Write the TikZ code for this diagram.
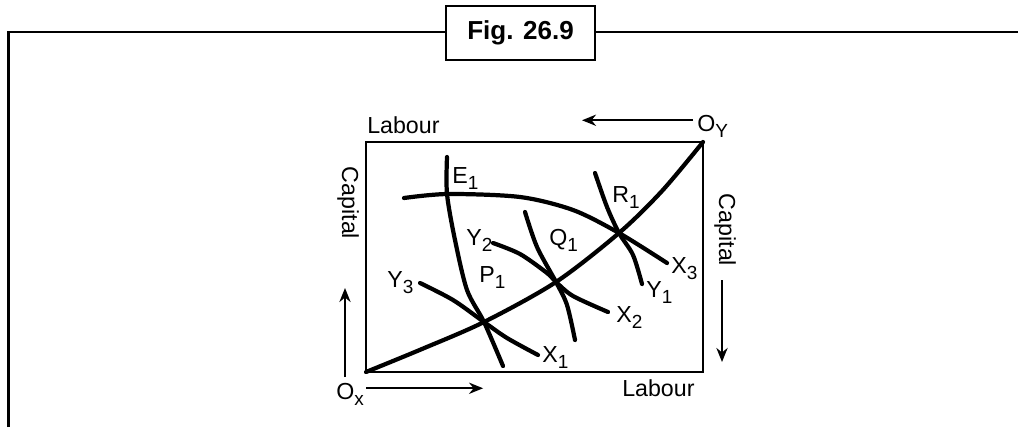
\documentclass[tikz,border=0pt]{standalone}
\usepackage{fontspec}
\setmainfont{Liberation Sans}
\usetikzlibrary{arrows.meta}
\newcommand{\lsub}[1]{\raisebox{-0.55ex}{\fontsize{13.5}{15}\selectfont #1}}

\begin{document}
\begin{tikzpicture}[x=0.025cm, y=-0.025cm,
    font=\fontsize{16.5}{19}\selectfont,
    frame/.style={line width=1.8pt},
    edge/.style={line width=1.4pt},
    curve/.style={line width=3pt, line cap=round},
    arr/.style={line width=1.4pt, -{Stealth[length=10pt, width=8pt]}},
    lbl/.style={inner sep=0pt, anchor=base west}]
    \useasboundingbox (0,0) rectangle (1018,427);
    % outer frame and title
    \draw[frame] (8.5,427) -- (8.5,32) -- (1018,32);
    \node[draw, line width=1.3pt, fill=white, minimum width=3.72cm, minimum height=1.35cm,
          font=\fontsize{18.5}{21}\selectfont\bfseries] (title) at (520.5,33) {Fig. 26.9};
    % box
    \coordinate (Ox) at (366,372);
    \coordinate (Oy) at (703,142);
    \draw[edge] (Ox) rectangle (Oy);
    % contract curve
    \coordinate (P1) at (484,322);
    \coordinate (Q1) at (556,282);
    \coordinate (R1) at (619,233);
    \draw[curve] plot[smooth] coordinates {(Ox) (422,349) (P1) (Q1) (R1) (662,191) (Oy)};
    % isoquants
    \draw[curve] plot[smooth] coordinates {(447,157) (447,194) (455,240) (467,290) (P1) (503,366)};
    \draw[curve] plot[smooth] coordinates {(404,198) (448,194) (520,197) (573,210) (R1) (667,263)};
    \draw[curve] plot[smooth] coordinates {(493,243) (520,254) (547,273) (Q1) (573,296) (608,312)};
    \draw[curve] plot[smooth] coordinates {(525,212) (537,247) (Q1) (567,305) (575,340)};
    \draw[curve] plot[smooth] coordinates {(595,173) (607,207) (R1) (633,255) (642,284)};
    \draw[curve] plot[smooth] coordinates {(420,283) (453,300) (P1) (507,338) (538,355)};
    % labels
    \node[lbl] (e1) at (452,183) {E\lsub{1}};
    \node[lbl] (r1) at (612,202) {R\lsub{1}};
    \node[lbl] (y2) at (466,245) {Y\lsub{2}};
    \node[lbl] (q1) at (549,245) {Q\lsub{1}};
    \node[lbl] (p1) at (479,282) {P\lsub{1}};
    \node[lbl] (y3) at (387,287) {Y\lsub{3}};
    \node[lbl] (x1) at (542,362) {X\lsub{1}};
    \node[lbl] (x2) at (616,322) {X\lsub{2}};
    \node[lbl] (x3) at (671,273) {X\lsub{3}};
    \node[lbl] (y1) at (646,297) {Y\lsub{1}};
    \node[lbl] (oy) at (697,131) {O\lsub{Y}};
    \node[lbl] (ox) at (336,399) {O\lsub{x}};
    \node[lbl] (labtop) at (367,133) {Labour};
    \node[lbl] (labbot) at (622,396) {Labour};
    \node[inner sep=0pt, rotate=-90] (capl) at (348,203) {Capital};
    \node[inner sep=0pt, rotate=-90] (capr) at (725,230) {Capital};
    % direction arrows
    \draw[arr] (oy.west) ++(-4,-6) -- ++(-111,0);
    \draw[arr] (ox.east) ++(2,-6) -- ++(117,0);
    \draw[arr] (345,377) -- (345,288);
    \draw[arr] (722,280) -- (722,362);
  \end{tikzpicture}
\end{document}
